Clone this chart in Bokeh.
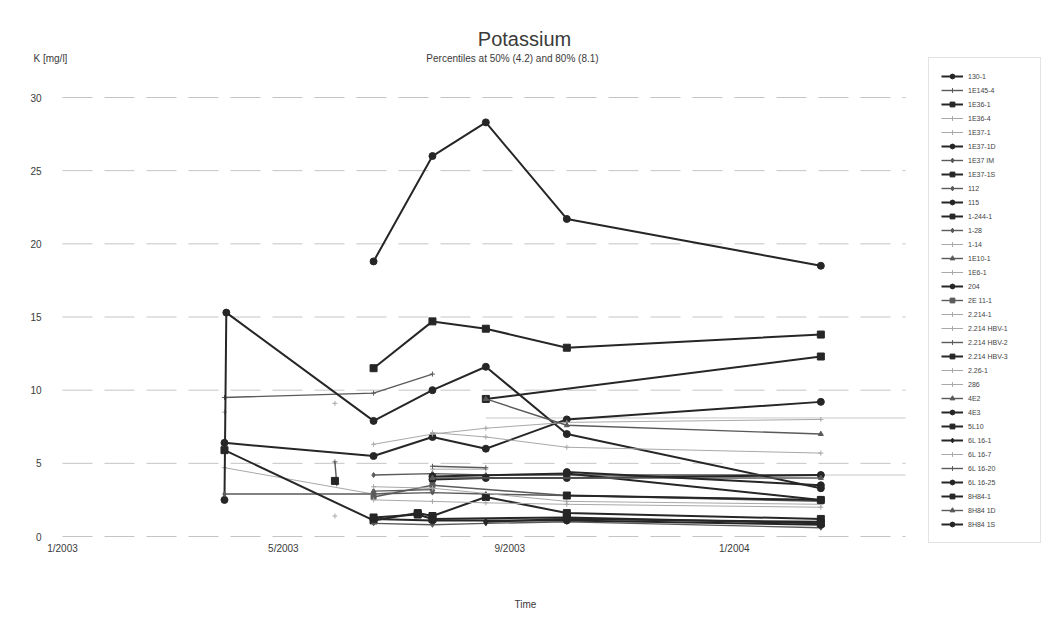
import pandas as pd
from bokeh.plotting import figure
from bokeh.models import Label, Legend, LegendItem
from bokeh.core.properties import value
from bokeh.embed import file_html
from bokeh.resources import INLINE

N = None
# sampling dates (columns of the series below)
sample_dates = ["2003-03-30", "2003-03-31", "2003-05-29", "2003-05-30", "2003-06-19",
                "2003-07-13", "2003-07-21", "2003-08-19", "2003-10-02", "2004-02-17"]

series_names = ["130-1", "1E145-4", "1E36-1", "1E36-4", "1E37-1", "1E37-1D", "1E37 IM",
                "1E37-1S", "112", "115", "1-244-1", "1-28", "1-14", "1E10-1", "1E6-1", "204",
                "2E 11-1", "2.214-1", "2.214 HBV-1", "2.214 HBV-2", "2.214 HBV-3", "2.26-1",
                "286", "4E2", "4E3", "5L10", "6L 16-1", "6L 16-7", "6L 16-20", "6L 16-25",
                "8H84-1", "8H84 1D", "8H84 1S"]

k_130_1 = [N, N, N, N, 18.8, N, 26.0, 28.3, 21.7, 18.5]
k_1e145_4 = [9.5, N, N, N, 9.8, N, 11.1, N, N, N]
k_1e36_1 = [N, N, N, N, 11.5, N, 14.7, 14.2, 12.9, 13.8]
k_1e36_4 = [8.5, N, N, N, N, N, N, N, N, N]
k_1e37_1 = [4.7, N, N, N, 2.9, N, 3.3, N, N, N]
k_1e37_1d = [2.5, 15.3, N, N, 7.9, N, 10.0, 11.6, 7.0, 3.3]
k_1e37_im = [2.9, N, N, N, 2.9, N, 3.0, 2.9, 2.8, 2.5]
k_1e37_1s = [N, N, N, N, N, N, N, 9.4, N, 12.3]
k_112 = [N, N, N, N, 4.2, N, 4.3, 4.2, 4.2, 4.2]
k_115 = [6.4, N, N, N, 5.5, N, 6.8, 6.0, 8.0, 9.2]
k_1_244_1 = [5.9, N, N, N, 1.1, 1.6, 1.4, 2.7, 1.6, 1.2]
k_1_28 = [N, N, N, N, 0.9, N, 0.8, 0.9, 1.0, 0.6]
k_1_14 = [N, N, N, N, 6.3, N, 7.0, 7.4, 7.8, 8.0]
k_1e10_1 = [N, N, N, N, N, N, N, 9.4, 7.6, 7.0]
k_1e6_1 = [N, N, N, N, N, N, 7.1, 6.8, 6.1, 5.7]
k_204 = [N, N, N, N, N, N, 3.9, 4.0, 4.0, 4.2]
k_2e_11_1 = [N, N, N, N, 2.7, N, 3.5, N, 2.8, 2.4]
k_2214_1 = [N, N, N, N, 2.5, N, 2.4, 2.3, 2.2, 2.0]
k_2214_hbv1 = [N, N, N, N, N, N, 4.6, 4.6, N, N]
k_2214_hbv2 = [N, N, 5.1, 3.6, N, N, N, N, N, N]
k_2214_hbv3 = [N, N, 3.8, N, N, N, N, N, N, N]
k_226_1 = [N, N, 1.4, N, N, N, N, N, N, N]
k_286 = [N, N, 9.1, N, N, N, N, N, N, N]
k_4e2 = [N, N, N, N, 3.1, N, 3.2, N, N, N]
k_4e3 = [N, N, N, N, N, N, 4.1, N, 4.3, 2.5]
k_5l10 = [N, N, N, N, 1.3, 1.5, 1.2, N, 1.3, 0.9]
k_6l16_1 = [N, N, N, N, N, N, N, 1.0, 1.2, 1.0]
k_6l16_7 = [N, N, N, N, 3.4, N, 3.3, N, 2.4, 2.2]
k_6l16_20 = [N, N, N, N, N, N, 4.8, 4.7, N, N]
k_6l16_25 = [N, N, N, N, 1.2, N, 1.1, N, 1.1, 0.8]
k_8h84_1 = [N, N, N, N, N, N, N, N, 2.8, 2.5]
k_8h84_1d = [N, N, N, N, N, N, 4.0, N, N, 4.0]
k_8h84_1s = [N, N, N, N, N, N, N, N, 4.4, 3.5]

series_values = [k_130_1, k_1e145_4, k_1e36_1, k_1e36_4, k_1e37_1, k_1e37_1d, k_1e37_im,
                 k_1e37_1s, k_112, k_115, k_1_244_1, k_1_28, k_1_14, k_1e10_1, k_1e6_1, k_204,
                 k_2e_11_1, k_2214_1, k_2214_hbv1, k_2214_hbv2, k_2214_hbv3, k_226_1,
                 k_286, k_4e2, k_4e3, k_5l10, k_6l16_1, k_6l16_7, k_6l16_20, k_6l16_25,
                 k_8h84_1, k_8h84_1d, k_8h84_1s]

percentile_50 = 4.2
percentile_80 = 8.1
percentile_from = "2003-08-19"

y_ticks = [0, 5, 10, 15, 20, 25, 30]
tick_dates = ["2003-01-01", "2003-05-01", "2003-09-01", "2004-01-01"]
tick_labels = ["1/2003", "5/2003", "9/2003", "1/2004"]
x_start_date, x_end_date = "2003-01-01", "2004-04-03"

# styles
series_weight = ["thick", "mid", "thick", "light", "light", "thick", "mid", "thick", "mid", "thick",
                 "thick", "mid", "light", "mid", "light", "thick", "mid", "light", "light", "mid",
                 "thick", "light", "light", "mid", "thick", "thick", "thick", "light", "mid",
                 "thick", "thick", "mid", "thick"]
series_marker = ["circle", "cross", "square", "cross", "cross", "circle", "diamond", "square",
                 "diamond", "circle", "square", "diamond", "cross", "triangle", "cross", "circle",
                 "square", "cross", "cross", "cross", "square", "cross", "cross", "triangle",
                 "circle", "square", "diamond", "cross", "cross", "circle", "square", "triangle",
                 "circle"]
STY = {
    "thick": dict(color="#262626", width=2.0, size=7),
    "mid": dict(color="#5a5a5a", width=1.4, size=5),
    "light": dict(color="#a8a8a8", width=1.0, size=5),
}

FONT = "Liberation Sans"
TXT = "#3a3a3a"
W, H = 1050, 634
# pixel box of the plotting area inside the canvas
PL, PR, PT, PB = 62, 905, 97, 536


def ms(d):
    return pd.Timestamp(d).value / 1e6


x0, x1 = ms(x_start_date), ms(x_end_date)
y0, y1 = y_ticks[0], y_ticks[-1]
sx = (x1 - x0) / (PR - PL)
sy = (y1 - y0) / (PB - PT)

p = figure(width=W, height=H, x_axis_type="datetime",
           x_range=(x0 - PL * sx, x1 + (W - PR) * sx),
           y_range=(y0 - (H - PB) * sy, y1 + PT * sy),
           output_backend="svg", toolbar_location=None, title=None,
           min_border=0)
p.outline_line_color = None
p.background_fill_color = "white"
p.border_fill_color = "white"
p.xaxis.visible = False
p.yaxis.visible = False
p.grid.visible = False

# dashed horizontal gridlines
p.multi_line(xs=[[x0, x1] for _ in y_ticks], ys=[[t, t] for t in y_ticks],
             line_color="#c4c4c4", line_dash="30 12", line_width=1)
# percentile lines
dates_ms = [ms(d) for d in sample_dates]
pf = ms(percentile_from)
p.multi_line(xs=[[pf, x1], [pf, x1]],
             ys=[[percentile_50] * 2, [percentile_80] * 2],
             line_color="#c8c8c8", line_width=1)

# tick labels
p.text(x=[x0] * len(y_ticks), y=y_ticks, text=[str(t) for t in y_ticks],
       x_offset=-21, text_align="right", text_baseline="middle",
       text_font=value(FONT), text_font_size="10px", text_color=TXT)
p.text(x=[ms(d) for d in tick_dates], y=[y0] * len(tick_dates), text=tick_labels,
       y_offset=6, text_align="center", text_baseline="top",
       text_font=value(FONT), text_font_size="10px", text_color=TXT)

items = []
for name, vals, w, mk in zip(series_names, series_values, series_weight, series_marker):
    xs = [x for x, v in zip(dates_ms, vals) if v is not None]
    ys = [v for v in vals if v is not None]
    st = STY[w]
    r1 = p.line(xs, ys, line_color=st["color"], line_width=st["width"])
    r2 = p.scatter(xs, ys, marker=mk, size=st["size"], fill_color=st["color"],
                   line_color=st["color"], line_width=1)
    items.append(LegendItem(label=name, renderers=[r1, r2]))

legend = Legend(items=items, location=(928, H - 543), orientation="vertical")
legend.label_text_font = FONT
legend.label_text_font_size = "7px"
legend.label_text_color = "#444444"
legend.glyph_height = 12
legend.glyph_width = 22
legend.label_height = 12
legend.label_width = 60
legend.label_standoff = 5
legend.spacing = 2
legend.padding = 12
legend.margin = 0
legend.border_line_color = "#c8c8c8"
legend.border_line_width = 1
legend.background_fill_color = "white"
legend.background_fill_alpha = 1
p.add_layout(legend, "center")


def add_text(txt, x, y, size, align="center"):
    # x, y in canvas pixels measured from the top-left corner
    p.add_layout(Label(x=x, y=H - y, x_units="screen", y_units="screen", text=txt,
                       text_font=FONT, text_font_size=size, text_color=TXT,
                       text_align=align, text_baseline="middle"))


add_text("Potassium", 524, 38, "20px")
add_text("Percentiles at 50% (4.2) and 80% (8.1)", 512, 58, "10px")
add_text("K [mg/l]", 33, 58, "10px", align="left")
add_text("Time", 525, 604, "10px")

open("out.html", "w").write(file_html(p, INLINE))
